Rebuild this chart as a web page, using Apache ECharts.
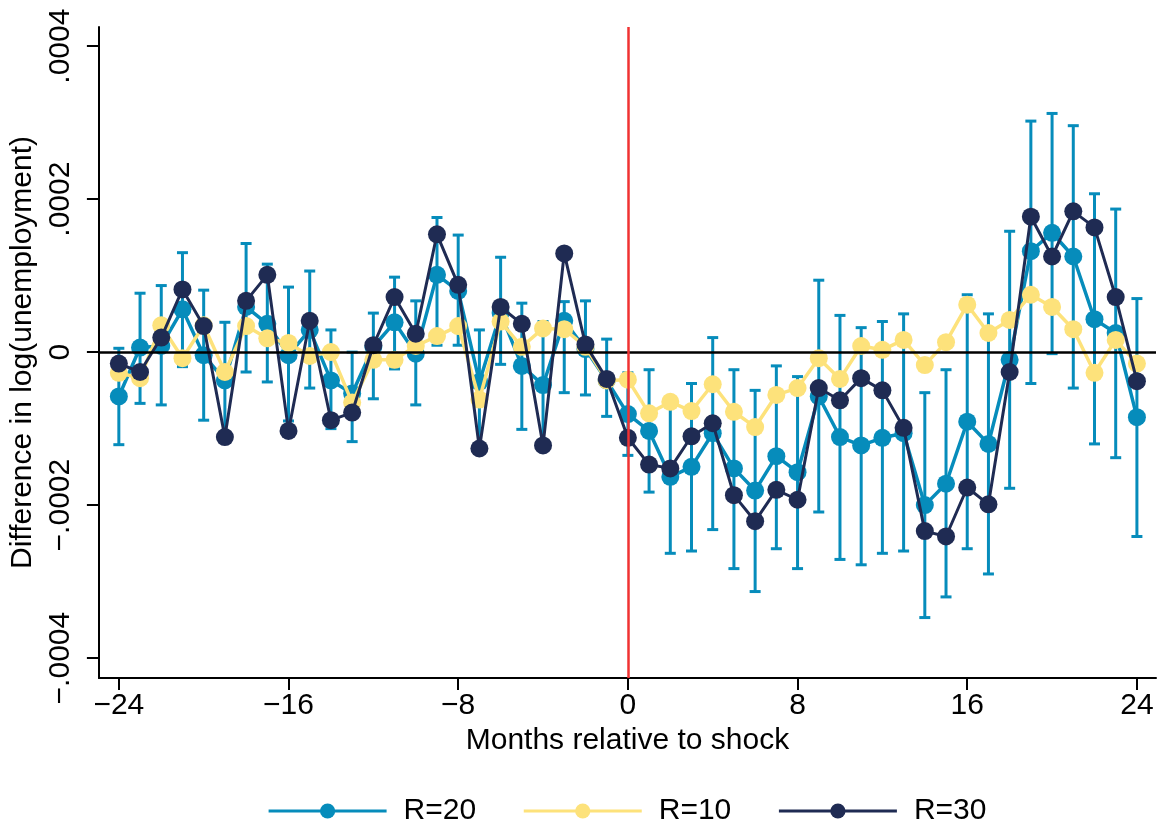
<!DOCTYPE html>
<html>
<head>
<meta charset="utf-8">
<script src="https://cdn.jsdelivr.net/npm/echarts@6/dist/echarts.min.js"></script>
<style>
html,body{margin:0;padding:0;background:#fff;}
#chart{width:1159px;height:825px;}
</style>
</head>
<body>
<div id="chart"></div>
<script>
// months relative to shock
var months = [-24,-23,-22,-21,-20,-19,-18,-17,-16,-15,-14,-13,-12,-11,-10,-9,-8,-7,-6,-5,-4,-3,-2,-1,
	0,1,2,3,4,5,6,7,8,9,10,11,12,13,14,15,16,17,18,19,20,21,22,23,24];

// values are in units of 1e-4 (difference in log unemployment)
var r20 = [-0.58,0.06,0.08,0.56,-0.04,-0.37,0.59,0.37,-0.04,0.29,-0.37,-0.54,0.07,0.39,-0.02,1.01,0.80,-0.39,0.51,-0.18,-0.43,0.41,0.04,-0.37,
	-0.81,-1.03,-1.63,-1.50,-1.06,-1.52,-1.81,-1.36,-1.57,-0.58,-1.11,-1.22,-1.12,-1.06,-2.00,-1.72,-0.91,-1.20,-0.10,1.32,1.56,1.25,0.43,0.25,-0.85];
var r20Lo = [-1.21,-0.67,-0.69,-0.19,-0.89,-1.12,-0.26,-0.39,-0.90,-0.47,-1.00,-1.17,-0.61,-0.22,-0.69,0.09,0.09,-1.20,-0.16,-1.01,-1.24,-0.53,-0.56,-0.84,
	-1.35,-1.83,-2.63,-2.60,-2.32,-2.83,-3.13,-2.57,-2.83,-2.09,-2.71,-2.78,-2.63,-2.60,-3.47,-3.20,-2.57,-2.90,-1.78,-0.41,-0.02,-0.47,-1.20,-1.38,-2.41];
var r20Hi = [0.05,0.77,0.87,1.30,0.81,0.39,1.42,1.15,0.85,1.06,0.29,0.00,0.51,0.98,0.67,1.76,1.53,0.29,1.24,0.64,0.40,0.66,0.67,0.17,
	-0.27,-0.23,-0.63,-0.41,0.19,-0.23,-0.50,-0.18,-0.32,0.94,0.48,0.32,0.40,0.50,-0.53,-0.23,0.75,0.50,1.58,3.02,3.12,2.96,2.07,1.87,0.70];
var r10 = [-0.27,-0.34,0.35,-0.08,0.35,-0.26,0.34,0.18,0.12,-0.05,0.00,-0.66,-0.10,-0.10,0.08,0.21,0.34,-0.62,0.40,0.07,0.31,0.30,0.07,-0.37,
	-0.36,-0.80,-0.65,-0.77,-0.42,-0.78,-0.98,-0.56,-0.47,-0.08,-0.35,0.08,0.03,0.16,-0.17,0.13,0.62,0.25,0.42,0.75,0.59,0.30,-0.27,0.16,-0.15];
var r30 = [-0.15,-0.26,0.19,0.82,0.34,-1.11,0.67,1.01,-1.03,0.41,-0.89,-0.79,0.09,0.72,0.24,1.54,0.88,-1.26,0.59,0.37,-1.22,1.29,0.10,-0.35,
	-1.12,-1.47,-1.52,-1.10,-0.93,-1.87,-2.21,-1.80,-1.93,-0.47,-0.63,-0.34,-0.50,-0.99,-2.34,-2.41,-1.77,-1.99,-0.26,1.77,1.25,1.84,1.63,0.72,-0.38];

var xTicks = [-24,-16,-8,0,8,16,24];
var yTicks = [-4,-2,0,2,4];
var yTickLabels = ['\u2212.0004','\u2212.0002','0','.0002','.0004'];

var cTeal = '#068cbb', cYellow = '#fde27b', cNavy = '#1f2b53';
var font = 'Liberation Sans, Arial, sans-serif';

function pairs(xs, ys){
	var out = [];
	for (var i = 0; i < xs.length; i++) out.push([xs[i], ys[i]]);
	return out;
}
var barData = [];
for (var i = 0; i < months.length; i++) barData.push([months[i], r20Lo[i], r20Hi[i]]);

var chart = echarts.init(document.getElementById('chart'), null, {renderer:'canvas'});
var option = {
	animation: false,
	backgroundColor: '#fff',
	textStyle: {fontFamily: font},
	grid: {left: 96, right: 3, top: 27, bottom: 147},
	xAxis: {
		type: 'value', min: -24.94, max: 24.9,
		name: 'Months relative to shock', nameLocation: 'middle', nameGap: 48,
		nameTextStyle: {fontSize: 30, color: '#000', fontFamily: font},
		axisLine: {onZero: false, lineStyle: {color: '#000', width: 2}},
		axisTick: {length: 12, lineStyle: {color: '#000', width: 2}, customValues: xTicks},
		axisLabel: {fontSize: 30, color: '#000', margin: 13, customValues: xTicks,
			formatter: function(v){ return v < 0 ? '\u2212' + Math.abs(v) : String(v); }},
		splitLine: {show: false}
	},
	yAxis: {
		type: 'value', min: -4.26, max: 4.25,
		name: 'Difference in log(unemployment)', nameLocation: 'middle', nameGap: 49, nameRotate: 90,
		nameTextStyle: {fontSize: 30, color: '#000', fontFamily: font},
		axisLine: {show: true, onZero: false, lineStyle: {color: '#000', width: 2}},
		axisTick: {show: true, length: 12, lineStyle: {color: '#000', width: 2}, customValues: yTicks},
		axisLabel: {fontSize: 30, color: '#000', margin: 23, rotate: 90, customValues: yTicks,
			formatter: function(v){ return yTickLabels[yTicks.indexOf(Math.round(v))]; }},
		splitLine: {show: false}
	},
	legend: {
		left: 262, top: 791, itemWidth: 118, itemHeight: 19, itemGap: 46,
		lineStyle: {width: 3.2},
		textStyle: {fontSize: 30, color: '#000', fontFamily: font, padding: [0,0,0,12]},
		data: ['R=20','R=10','R=30']
	},
	series: [
		{
			name: 'ci', type: 'custom', z: 1,
			data: barData,
			encode: {x: 0, y: [1, 2]},
			renderItem: function(params, api){
				var lo = api.coord([api.value(0), api.value(1)]);
				var hi = api.coord([api.value(0), api.value(2)]);
				var w = 5.5;
				var st = {stroke: cTeal, lineWidth: 3};
				return {type: 'group', children: [
					{type: 'line', shape: {x1: lo[0], y1: lo[1], x2: hi[0], y2: hi[1]}, style: st},
					{type: 'line', shape: {x1: lo[0]-w, y1: lo[1], x2: lo[0]+w, y2: lo[1]}, style: st},
					{type: 'line', shape: {x1: hi[0]-w, y1: hi[1], x2: hi[0]+w, y2: hi[1]}, style: st}
				]};
			},
			markLine: {
				silent: true, symbol: 'none', label: {show: false},
				data: [
					{yAxis: 0, lineStyle: {color: '#000', width: 2.5, type: 'solid'}},
					{xAxis: 0, lineStyle: {color: '#f03232', width: 2.5, type: 'solid'}}
				]
			}
		},
		{
			name: 'R=20', type: 'line', z: 2, data: pairs(months, r20),
			symbol: 'circle', symbolSize: 18, color: cTeal,
			lineStyle: {color: cTeal, width: 3.5}, itemStyle: {color: cTeal}
		},
		{
			name: 'R=10', type: 'line', z: 3, data: pairs(months, r10),
			symbol: 'circle', symbolSize: 18, color: cYellow,
			lineStyle: {color: cYellow, width: 3.5}, itemStyle: {color: cYellow}
		},
		{
			name: 'R=30', type: 'line', z: 4, data: pairs(months, r30),
			symbol: 'circle', symbolSize: 18, color: cNavy,
			lineStyle: {color: cNavy, width: 3}, itemStyle: {color: cNavy}
		}
	]
};
chart.setOption(option);
</script>
</body>
</html>
